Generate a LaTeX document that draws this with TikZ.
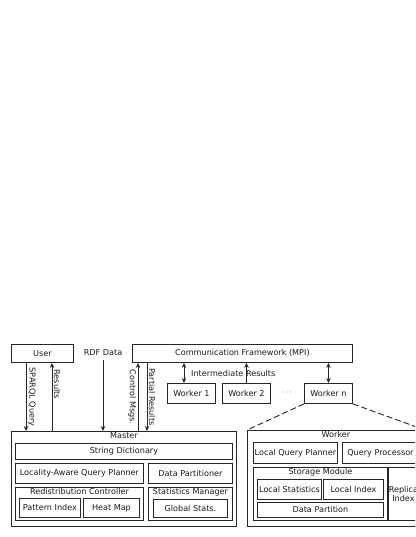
\documentclass[tikz,border=0pt]{standalone}
\usepackage{fontspec}
\setmainfont{DejaVu Sans}
\usetikzlibrary{positioning, arrows.meta, shapes}

\begin{document}
\begin{tikzpicture}[x=1pt, y=-1pt,
    every node/.style={font=\fontsize{8.1}{9.5}\selectfont, text=black!90},
    blk/.style 2 args={draw=black!85, line width=0.9pt, anchor=north west,
        minimum width=#1pt, minimum height=#2pt, inner sep=0pt},
    ttl/.style={anchor=north, inner sep=1pt},
    flow/.style={draw=black!85, line width=0.9pt, -{Stealth[length=5pt, width=4.5pt]}},
    both/.style={flow, {Stealth[length=5pt, width=4.5pt]}-{Stealth[length=5pt, width=4.5pt]}},
    lbl/.style={rotate=-90, inner sep=1.5pt},
    zoomline/.style={draw=black!85, line width=0.9pt, dash pattern=on 6pt off 3pt}]
    \useasboundingbox (0,0) rectangle (415,537);
    \clip (0,0) rectangle (415,537);

    % top row
    \node[blk={62}{18}] (user) at (11,344) {User};
    \node (rdf) at (103,353) {RDF Data};
    \node[blk={220}{18}] (comm) at (132,344) {Communication Framework (MPI)};
    \node[blk={48}{20}] (w1) at (167,383) {Worker 1};
    \node[blk={48}{20}] (w2) at (222,383) {Worker 2};
    \node (dots) at (287,393) {$\cdots$};
    \node[blk={48}{20}] (wn) at (304,383) {Worker n};
    \node[anchor=west, inner sep=0pt] (imres) at (191,373) {Intermediate Results};

    % master
    \node[blk={225}{95}] (master) at (11,431) {};
    \node[ttl] (mastert) at (master.north) {Master};
    \node[blk={217}{16}] (dict) at (15,443) {String Dictionary};
    \node[blk={128}{20}] (planner) at (15,463) {Locality-Aware Query Planner};
    \node[blk={84}{20}] (dpartr) at (148,463) {Data Partitioner};
    \node[blk={128}{33}] (redist) at (15,487) {};
    \node[ttl] (redistt) at (redist.north) {Redistribution Controller};
    \node[blk={61}{19}] (pidx) at (19,498) {Pattern Index};
    \node[blk={56}{19}] (heat) at (83,498) {Heat Map};
    \node[blk={84}{33}] (statm) at (148,487) {};
    \node[ttl] (statmt) at (statm.north) {Statistics Manager};
    \node[blk={74}{18}] (gstats) at (153,499) {Global Stats.};

    % worker (zoomed in)
    \node[blk={177}{96}] (worker) at (247,430) {};
    \node[ttl] (workert) at (worker.north) {Worker};
    \node[blk={84}{21}] (lqp) at (253,442) {Local Query Planner};
    \node[blk={76}{21}] (qp) at (342,442) {Query Processor};
    \node[blk={134}{53}] (storage) at (253,467) {};
    \node[ttl] (storaget) at (storage.north) {Storage Module};
    \node[blk={64}{20}] (lstats) at (257,479) {Local Statistics};
    \node[blk={60}{20}] (lidx) at (323,479) {Local Index};
    \node[blk={126}{15}] (dpart) at (257,502) {Data Partition};
    \node[blk={30}{53}, align=center] (replica) at (388,467) {Replica\\Index};

    % user <-> master
    \draw[flow] ([xshift=15pt]user.south west) -- ([xshift=15pt]user.south west |- master.north)
        node[midway, lbl, anchor=south] {SPARQL Query};
    \draw[flow] ([xshift=41pt]user.south west |- master.north) -- ([xshift=41pt]user.south west)
        node[pos=0.93, lbl, anchor=south west] {Results};
    \draw[flow] (rdf.south) -- (rdf.south |- master.north);

    % comm <-> master
    \draw[flow] ([xshift=6pt]comm.south west |- master.north) -- ([xshift=6pt]comm.south west)
        node[midway, lbl, anchor=north] {Control Msgs.};
    \draw[flow] ([xshift=15pt]comm.south west) -- ([xshift=15pt]comm.south west |- master.north)
        node[midway, lbl, anchor=south] {Partial Results};

    % comm <-> workers
    \draw[both] ([xshift=17pt]w1.north west) -- ([xshift=17pt]w1.north west |- comm.south);
    \draw[flow] (w2.north) -- (w2.north |- comm.south);
    \draw[both] (wn.north) -- (wn.north |- comm.south);

    % zoom onto worker n
    \draw[zoomline] (wn.south west) -- (worker.north west);
    \draw[zoomline] (wn.south east) -- (worker.north east);
\end{tikzpicture}
\end{document}
